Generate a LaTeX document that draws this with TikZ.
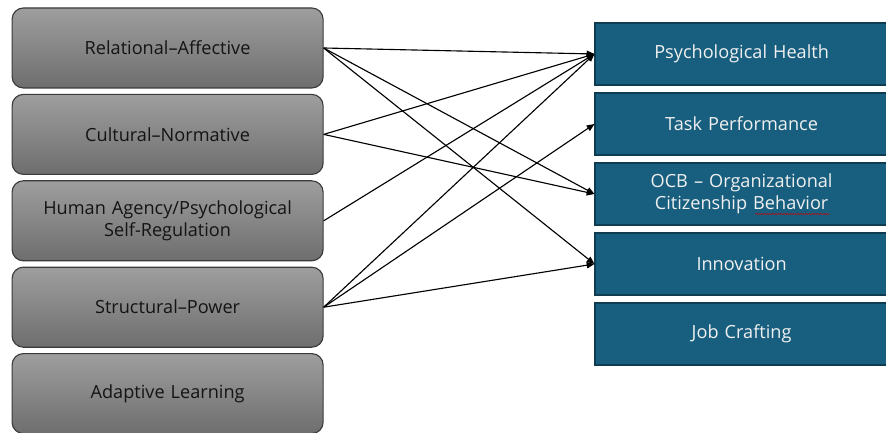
\documentclass[tikz,border=0pt]{standalone}
\usepackage{fontspec}
\setmainfont{Open Sans}
\usepackage{tikz}
\usetikzlibrary{arrows.meta,calc,decorations.pathmorphing}
\definecolor{GrayTop}{RGB}{158,158,158}
\definecolor{GrayBot}{RGB}{110,110,110}
\definecolor{GrayLine}{RGB}{58,58,58}
\definecolor{OutBlue}{RGB}{24,95,127}
\definecolor{OutLine}{RGB}{16,60,82}

\begin{document}
\begin{tikzpicture}[
  driver/.style={draw=GrayLine,line width=0.8pt,top color=GrayTop,bottom color=GrayBot,
                 rounded corners=8pt,minimum width=7.775cm,minimum height=2.0cm,
                 text width=7.2cm,align=center,text=black!92,
                 font=\fontsize{12.9}{16}\selectfont},
  outcome/.style={draw=OutLine,line width=0.8pt,fill=OutBlue,
                  minimum width=7.33cm,minimum height=1.55cm,
                  text width=6.8cm,align=center,text=white!94!black,
                  font=\fontsize{12.9}{16}\selectfont},
  link/.style={-{Triangle[length=5.5pt,width=4.5pt]},line width=0.8pt},
]
\useasboundingbox (0,0) rectangle (22.15,10.8);
% left column
\node[driver] (rel) at (4.19,9.6) {Relational--Affective};
\node[driver] (cul) at (4.19,7.44) {Cultural--Normative};
\node[driver] (hum) at (4.19,5.28) {Human Agency/Psychological\\Self-Regulation};
\node[driver] (str) at (4.19,3.12) {Structural--Power};
\node[driver] (ada) at (4.19,0.96) {Adaptive Learning};
% right column
\node[outcome] (psy) at (18.54,9.45) {Psychological Health};
\node[outcome] (tsk) at (18.54,7.70) {Task Performance};
\node[outcome] (ocb) at (18.54,5.95) {OCB -- Organizational\\Citizenship Behavior};
\node[outcome] (inn) at (18.54,4.20) {Innovation};
\node[outcome] (job) at (18.54,2.45) {Job Crafting};
\draw[red!80!black,line width=0.4pt,decoration={snake,amplitude=0.35pt,segment length=2pt},decorate]
  ($(ocb.center)+(0.34,-0.5)$) -- ($(ocb.center)+(2.2,-0.5)$);
% links
\draw[link] (rel.east) -- (psy.west);
\draw[link] (rel.east) -- (ocb.west);
\draw[link] (rel.east) -- (inn.west);
\draw[link] (cul.east) -- (psy.west);
\draw[link] (cul.east) -- (ocb.west);
\draw[link] (hum.east) -- (psy.west);
\draw[link] (str.east) -- (psy.west);
\draw[link] (str.east) -- (tsk.west);
\draw[link] (str.east) -- (inn.west);
\end{tikzpicture}
\end{document}
